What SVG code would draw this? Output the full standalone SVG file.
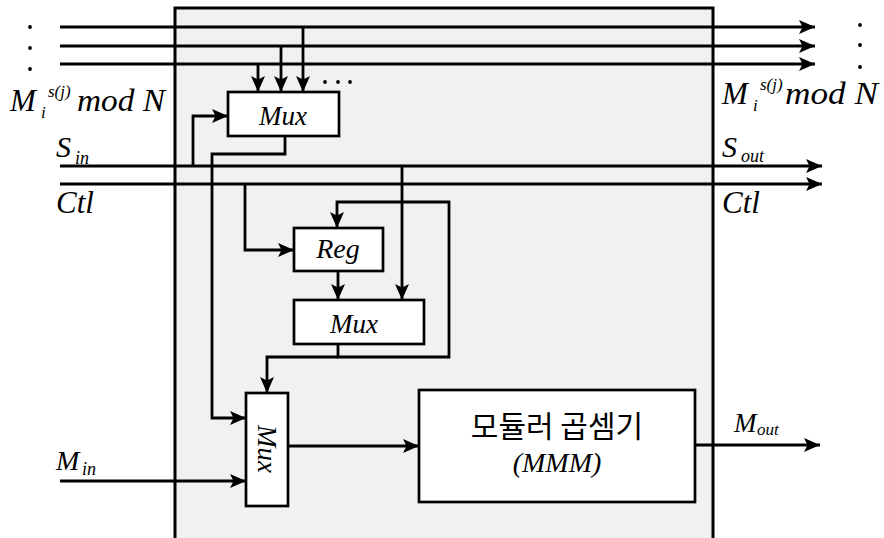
<svg xmlns="http://www.w3.org/2000/svg" width="884" height="538" viewBox="0 0 884 538">
<style>
.blk{fill:#f1f1f1;stroke:#000;stroke-width:3}
.box{fill:#fff;stroke:#000;stroke-width:2.7}
.w{fill:none;stroke:#000;stroke-width:2.8}
.t{font-family:"Liberation Serif",serif;font-style:italic;fill:#000}
.k{font-family:"Noto Sans CJK KR",sans-serif;fill:#000}
.dot{fill:#000}
</style>
<defs>
<marker id="ah" markerUnits="userSpaceOnUse" markerWidth="17" markerHeight="14" refX="16" refY="7" orient="auto">
<path d="M0,0 L16,7 L0,14 L3.5,7 Z" fill="#000"/>
</marker>
</defs>
<rect id="block" class="blk" x="175" y="8" width="538" height="545"/>
<g id="dots">
<circle class="dot" cx="30" cy="27" r="1.9"/><circle class="dot" cx="30" cy="48" r="1.9"/><circle class="dot" cx="30" cy="69" r="1.9"/>
<circle class="dot" cx="860" cy="25" r="1.9"/><circle class="dot" cx="860" cy="45" r="1.9"/><circle class="dot" cx="860" cy="67" r="1.9"/>
<circle class="dot" cx="325" cy="82" r="1.9"/><circle class="dot" cx="338" cy="82" r="1.9"/><circle class="dot" cx="350" cy="82" r="1.9"/>
</g>
<g id="connectors">
<path class="w" d="M60,27 H815" marker-end="url(#ah)"/>
<path class="w" d="M60,46 H815" marker-end="url(#ah)"/>
<path class="w" d="M60,64 H815" marker-end="url(#ah)"/>
<path class="w" d="M303,27 V92" marker-end="url(#ah)"/>
<path class="w" d="M281,46 V92" marker-end="url(#ah)"/>
<path class="w" d="M258,64 V92" marker-end="url(#ah)"/>
<path class="w" d="M60,166 H822" marker-end="url(#ah)"/>
<path class="w" d="M60,184 H822" marker-end="url(#ah)"/>
<path class="w" d="M193,166 V116 H228" marker-end="url(#ah)"/>
<path class="w" d="M285,136 V154 H212 V418 H246" marker-end="url(#ah)"/>
<path class="w" d="M245,184 V250 H294" marker-end="url(#ah)"/>
<path class="w" d="M402,166 V300" marker-end="url(#ah)"/>
<path class="w" d="M338,271 V300" marker-end="url(#ah)"/>
<path class="w" d="M338,344 V357 H449 V202 H337 V228" marker-end="url(#ah)"/>
<path class="w" d="M338,357 H267 V393" marker-end="url(#ah)"/>
<path class="w" d="M60,481 H246" marker-end="url(#ah)"/>
<path class="w" d="M288,446 H419" marker-end="url(#ah)"/>
<path class="w" d="M695,445 H820" marker-end="url(#ah)"/>
</g>
<g id="mux-top">
<rect class="box" x="228" y="92" width="111" height="44"/>
<text class="t" x="283" y="125" font-size="27" text-anchor="middle">Mux</text>
</g>
<g id="reg">
<rect class="box" x="294" y="228" width="89" height="43"/>
<text class="t" x="338" y="258" font-size="28" text-anchor="middle">Reg</text>
</g>
<g id="mux-mid">
<rect class="box" x="294" y="300" width="130" height="44"/>
<text class="t" x="354" y="333" font-size="27" text-anchor="middle">Mux</text>
</g>
<g id="mux-bottom">
<rect class="box" x="246" y="393" width="42" height="113"/>
<text class="t" x="0" y="0" font-size="27" text-anchor="middle" transform="translate(258,449) rotate(90)">Mux</text>
</g>
<g id="mmm">
<rect class="box" x="419" y="390" width="276" height="112"/>
<text class="k" x="557" y="437" font-size="30" text-anchor="middle">모듈러 곱셈기</text>
<text class="t" x="557" y="472" font-size="28" text-anchor="middle">(MMM)</text>
</g>
<g id="labels">
<text class="t" x="10" y="111" font-size="31">M</text>
<text class="t" x="41" y="118" font-size="17">i</text>
<text class="t" x="48" y="97" font-size="17">s(j)</text>
<text class="t" x="77" y="111" font-size="31" textLength="88" lengthAdjust="spacingAndGlyphs">mod N</text>
<text class="t" x="56" y="157" font-size="30">S</text>
<text class="t" x="75" y="164" font-size="18">in</text>
<text class="t" x="56" y="213" font-size="31">Ctl</text>
<text class="t" x="722" y="104" font-size="31">M</text>
<text class="t" x="753" y="111" font-size="17">i</text>
<text class="t" x="760" y="90" font-size="17">s(j)</text>
<text class="t" x="785" y="104" font-size="31" textLength="93" lengthAdjust="spacingAndGlyphs">mod N</text>
<text class="t" x="722" y="157" font-size="30">S</text>
<text class="t" x="741" y="162" font-size="18">out</text>
<text class="t" x="722" y="213" font-size="31">Ctl</text>
<text class="t" x="56" y="470" font-size="28">M</text>
<text class="t" x="82" y="475" font-size="18">in</text>
<text class="t" x="734" y="432" font-size="27">M</text>
<text class="t" x="757" y="435" font-size="17">out</text>
</g>
</svg>
